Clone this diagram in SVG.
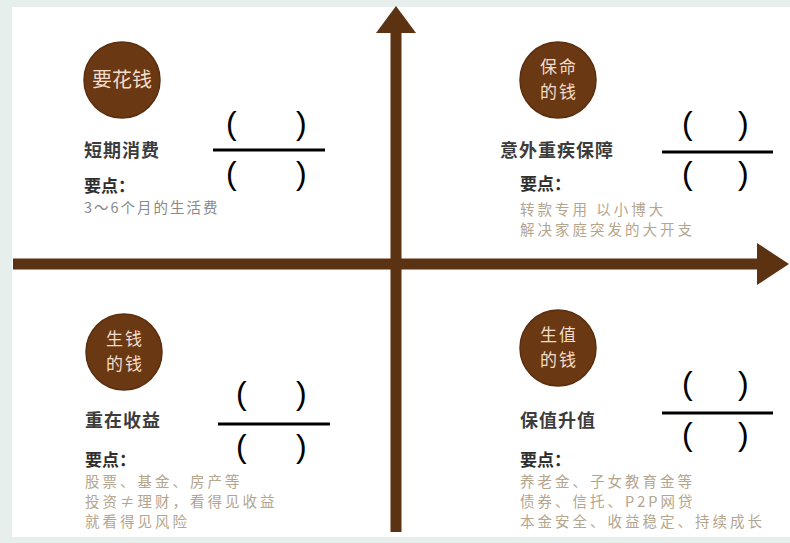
<svg xmlns="http://www.w3.org/2000/svg" width="790" height="543" viewBox="0 0 790 543">
<style>
.circ{fill:#6a3813;stroke:#5a2e0e;stroke-width:1.5}
.ct{font-family:"Noto Sans CJK SC",sans-serif;font-size:20px;fill:#f3dccb;text-anchor:middle}
.ct2{font-family:"Noto Sans CJK SC",sans-serif;font-size:17px;fill:#f3dccb;text-anchor:middle;letter-spacing:2px}
.title{font-family:"Noto Sans CJK SC",sans-serif;font-size:18px;font-weight:bold;fill:#3c3c3c;letter-spacing:1px}
.key{font-family:"Noto Sans CJK SC",sans-serif;font-size:17px;font-weight:bold;fill:#2f2f2f}
.det{font-family:"Noto Sans CJK SC",sans-serif;font-size:14.5px;fill:#b3a58e;letter-spacing:3px}
.det2{font-family:"Noto Sans CJK SC",sans-serif;font-size:14.5px;fill:#8a8a8a;letter-spacing:2px}
.par{font-family:"Liberation Sans",sans-serif;font-size:32px;fill:#000}
.fl{stroke:#000;stroke-width:3}
.axis{stroke:#5c3312;stroke-width:11;fill:none}
.head{fill:#5c3312}
</style>
<rect x="0" y="0" width="790" height="543" fill="#e6efeb"/>
<rect x="12" y="7" width="778" height="530" fill="#ffffff"/>
<g id="connectors">
<line class="axis" x1="13" y1="264" x2="762" y2="264"/>
<polygon class="head" points="757,243 789,264 757,285"/>
<line class="axis" x1="396" y1="532" x2="396" y2="28"/>
<polygon class="head" points="376,33 396,6 416,33"/>
</g>
<g id="q-tl">
<circle class="circ" cx="122" cy="80" r="38"/>
<text class="ct" x="122" y="87">要花钱</text>
<text class="title" x="84" y="157">短期消费</text>
<text class="key" x="84" y="192">要点：</text>
<text class="det2" x="84" y="213">3～6个月的生活费</text>
<text class="par" x="226" y="134">(</text><text class="par" x="296" y="134">)</text>
<line class="fl" x1="213" y1="150" x2="325" y2="150"/>
<text class="par" x="226" y="184">(</text><text class="par" x="296" y="184">)</text>
</g>
<g id="q-tr">
<circle class="circ" cx="558" cy="80" r="38"/>
<text class="ct2" x="559" y="73">保命</text>
<text class="ct2" x="559" y="98">的钱</text>
<text class="title" x="500" y="157">意外重疾保障</text>
<text class="key" x="520" y="190">要点：</text>
<text class="det" x="520" y="215">转款专用 以小博大</text>
<text class="det" x="520" y="235">解决家庭突发的大开支</text>
<text class="par" x="682" y="134">(</text><text class="par" x="738" y="134">)</text>
<line class="fl" x1="662" y1="152" x2="773" y2="152"/>
<text class="par" x="682" y="184">(</text><text class="par" x="738" y="184">)</text>
</g>
<g id="q-bl">
<circle class="circ" cx="124" cy="352" r="38"/>
<text class="ct2" x="125" y="345">生钱</text>
<text class="ct2" x="125" y="370">的钱</text>
<text class="title" x="85" y="427">重在收益</text>
<text class="key" x="85" y="466">要点：</text>
<text class="det" x="85" y="487">股票、基金、房产等</text>
<text class="det" x="85" y="507">投资≠理财，看得见收益</text>
<text class="det" x="85" y="527">就看得见风险</text>
<text class="par" x="236" y="404">(</text><text class="par" x="296" y="404">)</text>
<line class="fl" x1="218" y1="424" x2="330" y2="424"/>
<text class="par" x="236" y="457">(</text><text class="par" x="296" y="457">)</text>
</g>
<g id="q-br">
<circle class="circ" cx="558" cy="348" r="38"/>
<text class="ct2" x="559" y="341">生值</text>
<text class="ct2" x="559" y="366">的钱</text>
<text class="title" x="520" y="427">保值升值</text>
<text class="key" x="520" y="466">要点：</text>
<text class="det" x="520" y="487">养老金、子女教育金等</text>
<text class="det" x="520" y="507">债券、信托、P2P网贷</text>
<text class="det" x="520" y="527">本金安全、收益稳定、持续成长</text>
<text class="par" x="682" y="394">(</text><text class="par" x="738" y="394">)</text>
<line class="fl" x1="662" y1="413" x2="773" y2="413"/>
<text class="par" x="682" y="445">(</text><text class="par" x="738" y="445">)</text>
</g>
</svg>
